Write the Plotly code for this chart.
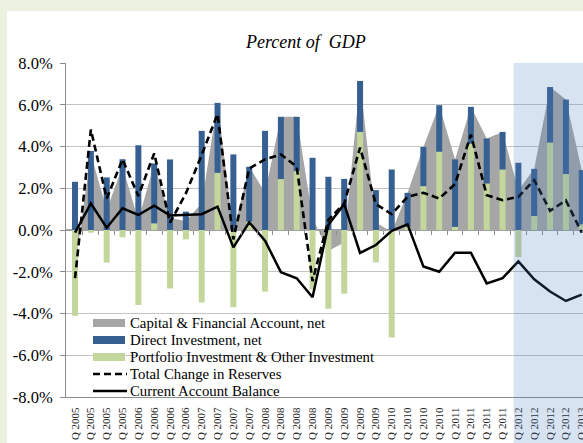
import plotly.graph_objects as go

quarter_labels = [
    "Q 2005", "Q 2005", "Q 2005", "Q 2005",
    "Q 2006", "Q 2006", "Q 2006", "Q 2006",
    "Q 2007", "Q 2007", "Q 2007", "Q 2007",
    "Q 2008", "Q 2008", "Q 2008", "Q 2008",
    "Q 2009", "Q 2009", "Q 2009", "Q 2009",
    "Q 2010", "Q 2010", "Q 2010", "Q 2010",
    "Q 2011", "Q 2011", "Q 2011", "Q 2011",
    "Q 2012", "Q 2012", "Q 2012", "Q 2012",
    "Q 2013",
]

# percent of GDP
capital_account = [-1.80, 3.66, 0.96, 3.04, 0.47, 3.19, 0.58, 0.43, 1.28, 6.09, -0.08,
                   3.03, 1.80, 5.42, 5.42, 0.56, -1.00, -0.60, 7.14, 0.36, -0.10, 1.78,
                   3.98, 5.98, 3.38, 5.90, 4.38, 4.70, 1.90, 2.93, 6.85, 6.25, 2.87]
direct_investment = [2.31, 3.79, 2.52, 3.39, 4.06, 2.87, 3.38, 0.88, 4.75, 3.35, 3.62,
                     2.63, 4.75, 2.98, 2.60, 3.46, 2.55, 2.45, 2.44, 1.91, 2.90, 1.63,
                     1.88, 2.23, 3.23, 1.76, 2.15, 1.80, 3.22, 2.26, 2.66, 3.57, 2.60]
portfolio_other = [-4.11, -0.13, -1.56, -0.35, -3.59, 0.32, -2.80, -0.45, -3.47, 2.74, -3.70,
                   0.40, -2.95, 2.44, 2.82, -2.85, -3.77, -3.05, 4.70, -1.55, -5.15, 0.15,
                   2.10, 3.75, 0.15, 4.14, 2.23, 2.90, -1.30, 0.67, 4.19, 2.68, 0.27]
reserves_change = [-2.31, 4.81, 1.51, 3.38, 1.63, 3.67, 0.35, 1.75, 3.60, 5.55, -0.45,
                   2.95, 3.38, 3.62, 3.03, -2.45, 0.48, 1.27, 3.95, 1.24, 0.76, 1.59,
                   1.78, 1.51, 2.20, 4.57, 1.67, 1.43, 1.59, 2.39, 0.92, 1.42, -0.13]
current_account = [-0.13, 1.27, 0.11, 1.04, 0.72, 1.16, 0.69, 0.72, 0.76, 1.12, -0.83,
                   0.37, -0.51, -2.02, -2.31, -3.22, 0.25, 1.24, -1.10, -0.72, -0.04, 0.27,
                   -1.75, -2.00, -1.09, -1.09, -2.56, -2.31, -1.50, -2.36, -2.95, -3.40, -3.10]

y_ticks = [-8, -6, -4, -2, 0, 2, 4, 6, 8]
y_tick_labels = ["-8.0%", "-6.0%", "-4.0%", "-2.0%", "0.0%", "2.0%", "4.0%", "6.0%", "8.0%"]

legend_names = [
    "Capital & Financial Account, net",
    "Direct Investment, net",
    "Portfolio Investment & Other Investment",
    "Total Change in Reserves",
    "Current Account Balance",
]

FONT = "Liberation Serif"
GRAY = "#a6a6a6"
BLUE = "#376092"
GREEN = "#c3d69b"
AXIS = "#8c8c8c"

# plot box in pixels (matches the margins below)
PL, PR, PT, PB = 66, 583, 63, 397


def fx(px):
    return (px - PL) / (PR - PL)


def fy(py):
    return (PB - py) / (PB - PT)


x = list(range(len(quarter_labels)))
x_range = [-0.57, 32.08]

fig = go.Figure()

# area on the base axes so it stays behind the bars
fig.add_trace(go.Scatter(
    x=x, y=capital_account, mode="none", fill="tozeroy", fillcolor=GRAY,
    hoverinfo="skip",
))

# bars + lines live on the overlay axis (drawn on top)
fig.add_trace(go.Bar(x=x, y=portfolio_other, marker_color=GREEN, marker_line_width=0,
                     xaxis="x2"))
fig.add_trace(go.Bar(x=x, y=direct_investment, marker_color=BLUE, marker_line_width=0,
                     xaxis="x2"))
fig.add_trace(go.Scatter(
    x=x, y=reserves_change, mode="lines", xaxis="x2",
    line=dict(color="black", width=2.6, dash="7px,4px"),
))
fig.add_trace(go.Scatter(
    x=x, y=current_account, mode="lines", xaxis="x2",
    line=dict(color="black", width=2.5),
))

# hand-built legend (plotly's own rows are too tall for this layout)
legend_shapes = []
legend_notes = []
row_y = [323, 340, 357, 374, 391]
swatches = [GRAY, BLUE, GREEN]
for i, (name, yc) in enumerate(zip(legend_names, row_y)):
    if i < 3:
        legend_shapes.append(dict(
            type="rect", xref="paper", yref="paper",
            x0=fx(93), x1=fx(125), y0=fy(yc + 4), y1=fy(yc - 4),
            fillcolor=swatches[i], line_width=0, layer="above"))
    else:
        legend_shapes.append(dict(
            type="line", xref="paper", yref="paper",
            x0=fx(93), x1=fx(127), y0=fy(yc), y1=fy(yc),
            line=dict(color="black", width=2.5, dash="7px,4px" if i == 3 else "solid"),
            layer="above"))
    legend_notes.append(dict(
        text=name, xref="paper", yref="paper", x=fx(128), y=fy(yc),
        xanchor="left", yanchor="middle", showarrow=False,
        font=dict(size=14.8, family=FONT, color="black")))

fig.update_layout(
    width=583,
    height=443,
    margin=dict(l=PL, r=0, t=PT, b=443 - PB, autoexpand=False),
    paper_bgcolor="#ebf1de",
    plot_bgcolor="white",
    font=dict(family=FONT, color="black"),
    barmode="relative",
    bargap=0.62,
    showlegend=False,
    xaxis=dict(
        range=x_range, tickmode="array", tickvals=x, ticktext=quarter_labels,
        tickangle=-90, tickfont=dict(size=11, family=FONT, color="#222222"), ticks="",
        ticklabelstandoff=5, ticklabeloverflow="allow", automargin=False,
        showgrid=False, zeroline=False, showline=True, linecolor=AXIS, linewidth=1,
    ),
    xaxis2=dict(
        range=x_range, overlaying="x", anchor="free", position=0.5,
        tickmode="array", tickvals=[i + 0.5 for i in x], showticklabels=False,
        ticks="outside", ticklen=4, tickcolor=AXIS,
        showgrid=False, zeroline=False, showline=False,
    ),
    yaxis=dict(
        range=[-8, 8], tickmode="array", tickvals=y_ticks, ticktext=y_tick_labels,
        tickfont=dict(size=16.5, family=FONT), ticks="outside", ticklen=5, tickcolor=AXIS,
        ticklabelstandoff=4, automargin=False,
        showgrid=True, gridcolor="#c4c4c4", zeroline=True, zerolinecolor="#a0a0a0",
        showline=True, linecolor=AXIS, linewidth=1,
    ),
    shapes=[
        dict(type="rect", xref="paper", yref="paper", x0=fx(7), x1=1.02, y0=-0.2, y1=fy(11),
             fillcolor="white", line_width=0, layer="below"),
        dict(type="rect", xref="x", yref="paper", x0=27.7, x1=33, y0=-0.2, y1=1,
             fillcolor="rgba(79,129,189,0.22)", line_width=0, layer="above"),
    ] + legend_shapes,
    annotations=[
        dict(text="<i>Percent of  GDP</i>", xref="paper", yref="paper", x=fx(305), y=fy(30),
             showarrow=False, font=dict(size=18, family=FONT, color="black")),
    ] + legend_notes,
)

fig.write_html(
    "out.html",
    config={"displayModeBar": False},
    post_script="document.body.style.margin='0';document.body.style.overflow='hidden';",
)
